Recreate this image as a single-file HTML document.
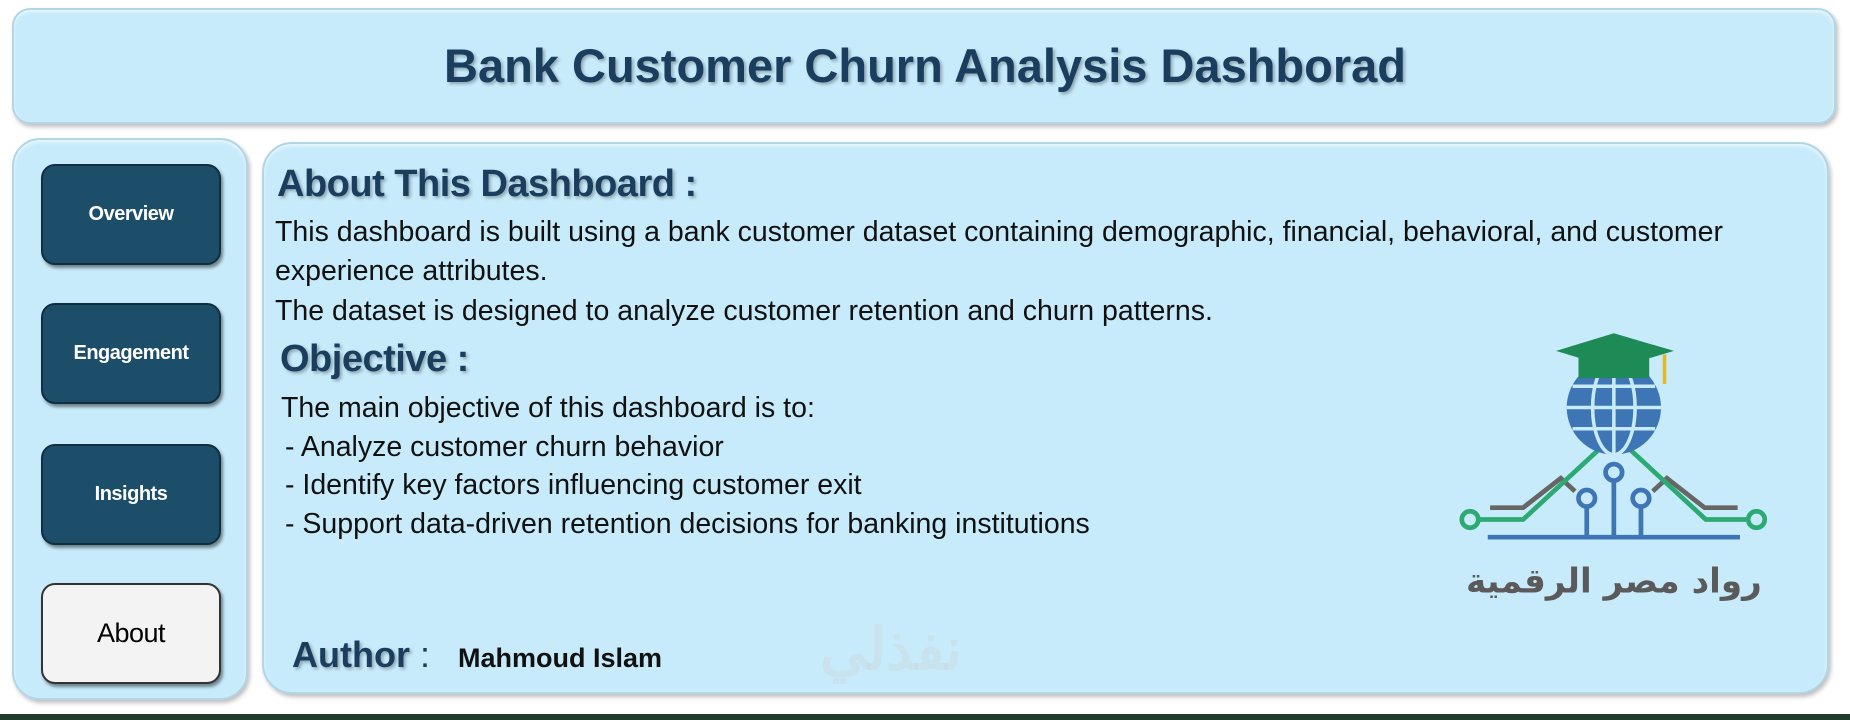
<!DOCTYPE html>
<html><head><meta charset="utf-8"><style>
*{margin:0;padding:0;box-sizing:border-box}
body{width:1850px;height:720px;background:#fff;position:relative;overflow:hidden;font-family:"Liberation Sans","Noto Sans CJK SC",sans-serif}
.box{position:absolute;background:#c8ebfb;border:2px solid #b3d6e6;box-shadow:2px 3px 4px rgba(0,0,0,.25),inset 0 2px 3px #eaf8ff}
.hd{color:#1b3d5e;font-weight:bold;text-shadow:2px 2px 3px rgba(0,0,0,.3);position:absolute;white-space:nowrap}
.btn{position:absolute;left:41px;width:180px;height:101px;border-radius:14px;background:#1c4e69;border:2px solid #0f2f40;box-shadow:2px 3px 3px rgba(0,0,0,.45);color:#fff;font-weight:bold;font-size:20px;display:flex;align-items:center;justify-content:center;letter-spacing:-.5px}
.t{position:absolute;font-size:28.5px;color:#111;white-space:nowrap}
</style></head><body>
<div class="box" style="left:12px;top:8px;width:1824px;height:116px;border-radius:18px"></div>
<div class="hd" style="left:0;width:1850px;text-align:center;top:38px;font-size:47px">Bank Customer Churn Analysis Dashborad</div>
<div class="box" style="left:12px;top:138px;width:236px;height:562px;border-radius:28px"></div>
<div class="btn" style="top:164px">Overview</div>
<div class="btn" style="top:303px">Engagement</div>
<div class="btn" style="top:444px">Insights</div>
<div class="btn" style="top:583px;background:#f3f3f3;color:#000;font-weight:normal;font-size:27px;border-color:#333">About</div>
<div class="box" style="left:262px;top:142px;width:1567px;height:552px;border-radius:30px"></div>
<div class="hd" style="left:277px;top:163px;font-size:38px;letter-spacing:-.5px">About This Dashboard :</div>
<div class="t" style="left:275px;top:216px">This dashboard is built using a bank customer dataset containing demographic, financial, behavioral, and customer</div>
<div class="t" style="left:275px;top:255px">experience attributes.</div>
<div class="t" style="left:275px;top:295px">The dataset is designed to analyze customer retention and churn patterns.</div>
<div class="hd" style="left:280px;top:338px;font-size:38px;letter-spacing:-.5px">Objective :</div>
<div class="t" style="left:281px;top:392px">The main objective of this dashboard is to:</div>
<div class="t" style="left:285px;top:431px">- Analyze customer churn behavior</div>
<div class="t" style="left:285px;top:469px">- Identify key factors influencing customer exit</div>
<div class="t" style="left:285px;top:508px">- Support data-driven retention decisions for banking institutions</div>
<div class="hd" style="left:292px;top:634px;font-size:36px">Author <span style="text-shadow:none;font-weight:normal">:</span></div>
<div class="t" style="left:458px;top:643px;font-weight:bold;font-size:27px">Mahmoud Islam</div>
<div style="position:absolute;left:820px;top:615px;font-size:58px;color:rgba(200,210,215,.35);font-weight:bold">نفذلي</div>
<svg style="position:absolute;left:1452px;top:325px" width="319" height="277" viewBox="1230 275 270 235">
<g fill="none" stroke-width="4">
<polyline points="1262,430 1290,430 1322,405 1334,416" stroke="#666"/>
<polyline points="1400,416 1412,405 1444,430 1472,430" stroke="#666"/>
<polyline points="1253,440 1290,440 1355,380" stroke="#2daa74"/>
<polyline points="1380,380 1445,440 1481,440" stroke="#2daa74"/>
<line x1="1260" y1="455" x2="1474" y2="455" stroke="#3e75b5"/>
<circle cx="1245" cy="440" r="7" stroke="#2daa74"/><circle cx="1488" cy="440" r="7" stroke="#2daa74"/>
<circle cx="1367" cy="400" r="7" stroke="#3e75b5"/><line x1="1367" y1="407" x2="1367" y2="455" stroke="#3e75b5"/>
<circle cx="1344" cy="422" r="7" stroke="#3e75b5"/><line x1="1344" y1="429" x2="1344" y2="455" stroke="#3e75b5"/>
<circle cx="1390" cy="422" r="7" stroke="#3e75b5"/><line x1="1390" y1="429" x2="1390" y2="455" stroke="#3e75b5"/>
</g>
<circle cx="1367" cy="345" r="40" fill="#3e75b5"/>
<g stroke="#c8ebfb" stroke-width="3" fill="none"><ellipse cx="1367" cy="345" rx="18" ry="40"/><line x1="1367" y1="305" x2="1367" y2="385"/><line x1="1327" y1="345" x2="1407" y2="345"/><line x1="1332" y1="327" x2="1402" y2="327"/><line x1="1332" y1="363" x2="1402" y2="363"/></g>
<polygon points="1318,297 1367,282 1418,297 1367,312" fill="#1e8a55"/>
<rect x="1337" y="300" width="60" height="20" fill="#1e8a55"/>
<line x1="1410" y1="300" x2="1410" y2="325" stroke="#e6b820" stroke-width="3"/>
<text x="1367" y="502" text-anchor="middle" font-size="29" font-weight="bold" fill="#5a5a5a" font-family="'DejaVu Sans','Noto Sans CJK SC',sans-serif">رواد مصر الرقمية</text>
</svg>
<div style="position:absolute;left:0;top:714px;width:1850px;height:6px;background:#1f3b2b"></div>
</body></html>
